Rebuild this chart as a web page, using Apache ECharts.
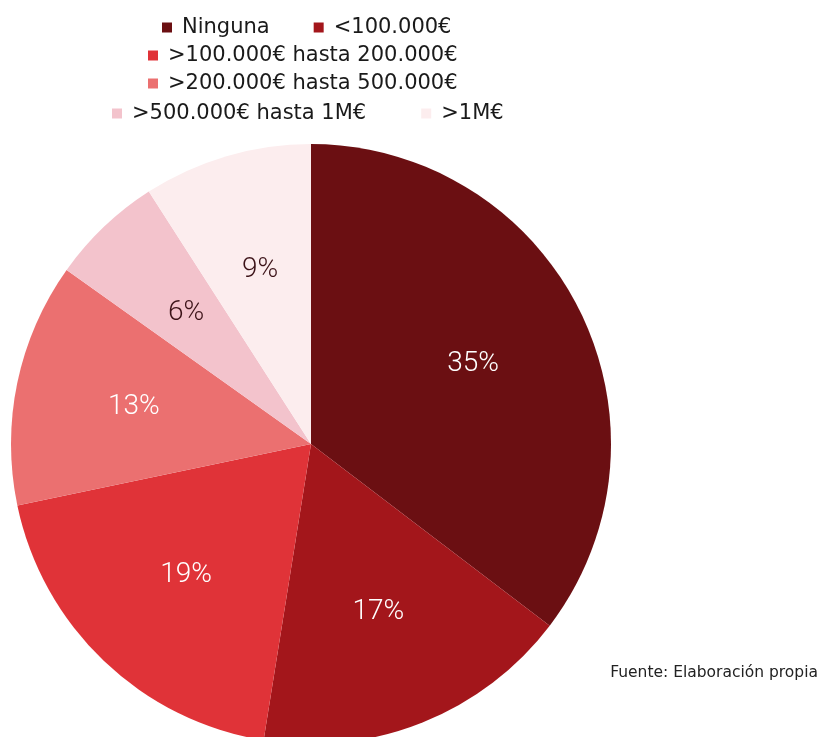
<!DOCTYPE html>
<html>
<head>
<meta charset="utf-8">
<script src="https://cdn.jsdelivr.net/npm/echarts@6/dist/echarts.min.js"></script>
<style>
  html, body { margin: 0; padding: 0; background: #ffffff; }
  #chart { width: 818px; height: 737px; }
</style>
</head>
<body>
<div id="chart"></div>
<script>
const categories = [
  'Ninguna',
  '<100.000€',
  '>100.000€ hasta 200.000€',
  '>200.000€ hasta 500.000€',
  '>500.000€ hasta 1M€',
  '>1M€'
];
const values = [35, 17, 19, 13, 6, 9];
const colors = ['#6b0f12', '#a3161b', '#e03338', '#eb7070', '#f3c3cc', '#fcedee'];
const labelColors = ['#ffffff', '#ffffff', '#ffffff', '#ffffff', '#3b1217', '#3b1217'];
const legendRows = [[0, 1], [2], [3], [4, 5]];
const legendTops = [12, 40, 68, 98];
const legendLefts = [157, 143, 143, 107];
const legendGaps = [44, 44, 44, 55];
const sourceText = 'Fuente: Elaboración propia';

const chart = echarts.init(document.getElementById('chart'));

const legends = legendRows.map((row, i) => ({
  top: legendTops[i],
  left: legendLefts[i],
  orient: 'horizontal',
  itemGap: legendGaps[i],
  itemWidth: 20,
  itemHeight: 10,
  icon: 'path://M0,0h10v10h-10z',
  textStyle: {
    fontFamily: 'DejaVu Sans',
    fontSize: 21,
    color: '#1a1a1a'
  },
  selectedMode: false,
  data: row.map((k) => categories[k])
}));

const pieData = categories.map((name, i) => ({
  name: name,
  value: values[i],
  itemStyle: { color: colors[i] },
  label: { color: labelColors[i] }
}));

const option = {
  animation: false,
  color: colors,
  legend: legends,
  graphic: [{
    type: 'text',
    right: 0,
    top: 665,
    style: {
      text: sourceText,
      font: '15.5px "DejaVu Sans"',
      fill: '#222222'
    }
  }],
  series: [{
    type: 'pie',
    center: [311, 444],
    radius: 300,
    startAngle: 90,
    clockwise: true,
    label: { show: false },
    labelLine: { show: false },
    emphasis: { disabled: true },
    data: pieData
  }, {
    // same slices, transparent, only to place the labels further out
    type: 'pie',
    center: [311, 444],
    radius: [56, 300],
    startAngle: 90,
    clockwise: true,
    silent: true,
    itemStyle: { color: 'rgba(0,0,0,0)' },
    label: {
      position: 'inside',
      formatter: '{c}%',
      fontFamily: 'Roboto',
      fontWeight: 300,
      fontSize: 28
    },
    labelLine: { show: false },
    emphasis: { disabled: true },
    data: pieData.map((d) => ({ name: d.name, value: d.value, label: d.label, itemStyle: { color: 'rgba(0,0,0,0)' } }))
  }]
};

chart.setOption(option);
</script>
</body>
</html>
